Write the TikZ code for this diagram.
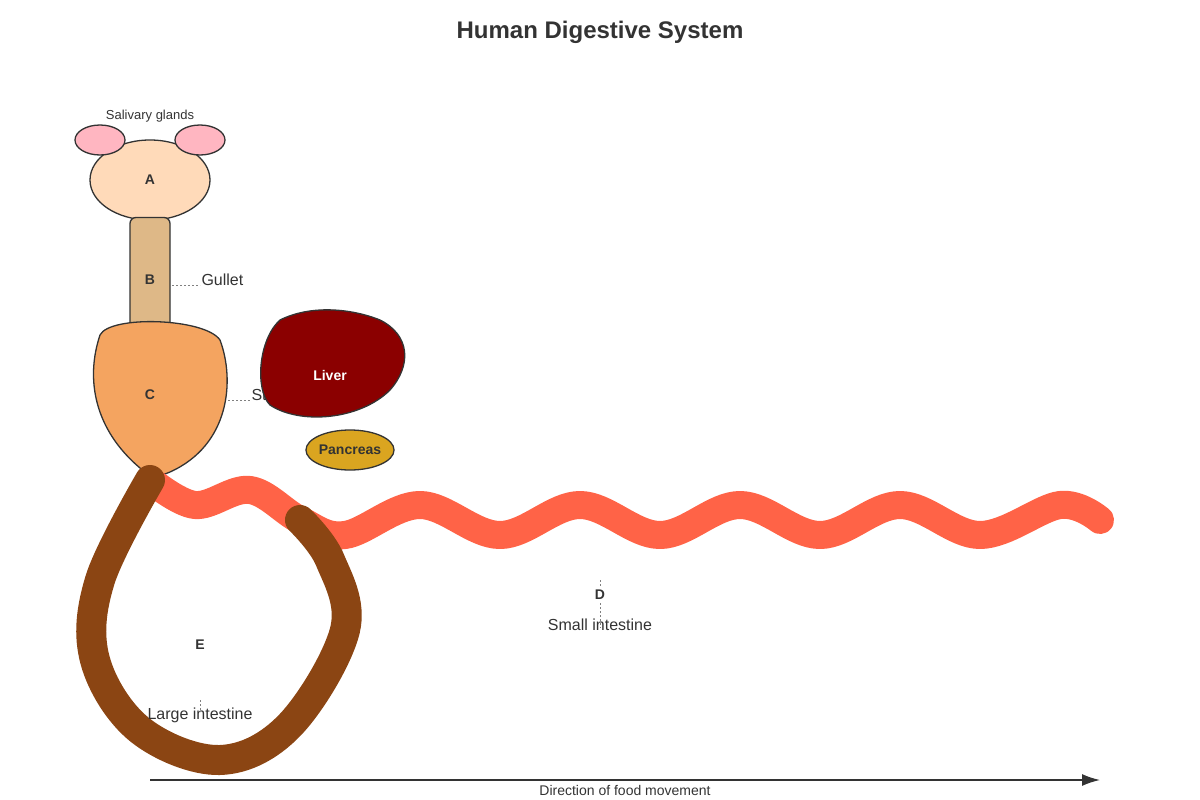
\documentclass[tikz,border=0pt]{standalone}
\usepackage{fontspec}
\setmainfont{Liberation Sans}
\usetikzlibrary{shapes.geometric,arrows.meta}
\begin{document}
\begin{tikzpicture}[x=1pt,y=-1pt,
  organ/.style={draw=black!80,line width=1.3pt},
  lbl/.style={font=\fontsize{16}{18}\selectfont,text=black!80},
  letter/.style={font=\bfseries\fontsize{14}{16}\selectfont,text=black!80},
  lead/.style={draw=gray,dashed,dash pattern=on 2pt off 2pt,line width=0.8pt}]
\useasboundingbox (0,0) rectangle (1200,800);
\node[font=\bfseries\fontsize{24}{28}\selectfont,text=black!80] (title) at (600,32) {Human Digestive System};
% mouth
\node[organ,ellipse,minimum width=120pt,minimum height=80pt,fill={rgb,255:red,255;green,218;blue,185}] (A) at (150,180) {};
\node[organ,ellipse,fill={rgb,255:red,255;green,182;blue,193},minimum width=50pt,minimum height=30pt] (g1) at (100,140) {};
\node[organ,ellipse,fill={rgb,255:red,255;green,182;blue,193},minimum width=50pt,minimum height=30pt] (g2) at (200,140) {};
\node[font=\fontsize{13}{15}\selectfont,text=black!80] (sg) at (150,116) {Salivary glands};
\node[letter] at (A) {A};
% gullet
\node[organ,rectangle,rounded corners=6pt,fill={rgb,255:red,222;green,184;blue,135},minimum width=40pt,minimum height=115pt] (B) at (150,275) {};
\node[letter] at (150,280) {B};
\node[lbl,anchor=west] (gl) at (198,280) {Gullet};
\draw[lead] (172,285) -- (200,285);
% stomach
\draw[organ,fill={rgb,255:red,244;green,164;blue,96}] (100,335) .. controls (110,315) and (205,318) .. (220,340)
  .. controls (235,380) and (230,445) .. (170,472) .. controls (160,477) and (148,475) .. (140,468)
  .. controls (95,430) and (85,380) .. (100,335) -- cycle;
\node[letter] (C) at (150,395) {C};
\node[lbl,anchor=west] (st) at (248,395) {Stomach};
\draw[lead] (228,400) -- (250,400);
% liver
\draw[organ,fill={rgb,255:red,139;green,0;blue,0}] (280,320) .. controls (310,305) and (350,308) .. (380,320)
  .. controls (410,335) and (412,365) .. (390,390) .. controls (360,420) and (300,425) .. (270,405)
  .. controls (255,390) and (258,340) .. (280,320) -- cycle;
\node[font=\bfseries\fontsize{14}{16}\selectfont,text=white] (liver) at (330,375) {Liver};
\node[organ,ellipse,fill={rgb,255:red,218;green,165;blue,32},minimum width=80pt,minimum height=40pt,inner sep=0pt,font=\bfseries\fontsize{14}{16}\selectfont,text=black!80] (pan) at (350,450) {Pancreas};
% small intestine
\draw[line width=28pt,line cap=round,line join=round,color={rgb,255:red,255;green,99;blue,71}]
 plot[smooth,tension=0.6] coordinates {(150,480) (195,505) (250,490) (300,520) (345,535) (420,505) (500,535) (580,505) (660,535) (740,505) (820,535) (900,505) (980,535) (1060,505) (1100,520)};
% large intestine
\draw[line width=30pt,line cap=round,line join=round,color={rgb,255:red,139;green,69;blue,19}]
 plot[smooth,tension=0.6] coordinates {(150,480) (100,580) (95,660) (140,730) (220,760) (290,725) (345,630) (330,560) (300,520)};
\node[letter] (D) at (600,595) {D};
\node[lbl] (si) at (600,625) {Small intestine};
\draw[lead] (600,580) -- (D.north);
\draw[lead] (D.south) -- (600,628);
\node[letter] (E) at (200,645) {E};
\node[lbl] (li) at (200,715) {Large intestine};
\draw[lead] (200,700) -- (200,712);
% arrow
\coordinate (a1) at (150,780);
\coordinate (a2) at (1100,780);
\draw[line width=1.5pt,draw=black!80,-{Latex[length=18pt,width=12pt]}] (a1) -- (a2);
\node[font=\fontsize{14}{16}\selectfont,text=black!80] (dir) at (625,790) {Direction of food movement};
\end{tikzpicture}
\end{document}
